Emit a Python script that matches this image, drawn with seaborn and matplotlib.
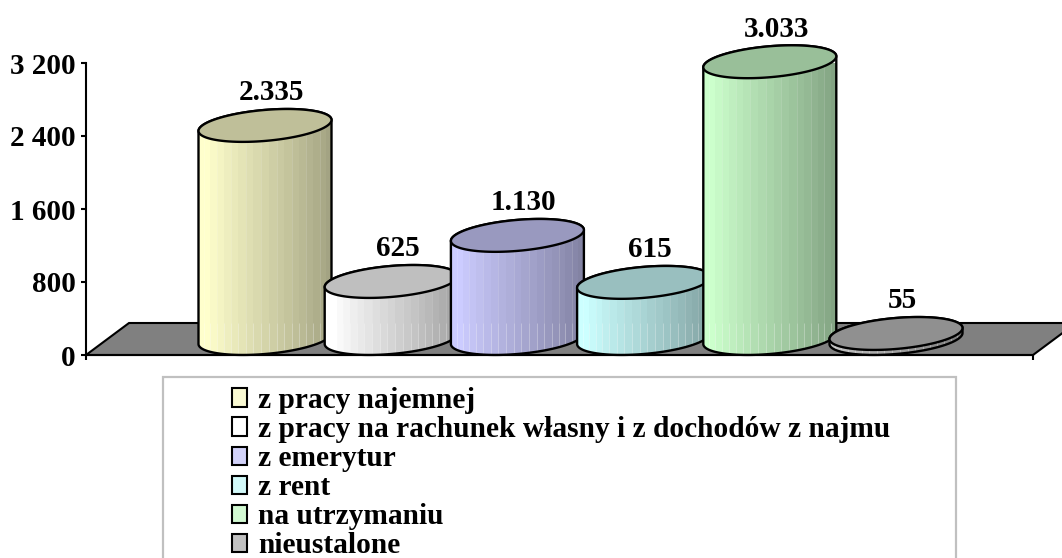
import numpy as np
import pandas as pd
import matplotlib
matplotlib.use("Agg")
from matplotlib import pyplot as plt
from matplotlib.colors import ListedColormap, to_rgb
from matplotlib.patches import Polygon, Rectangle
import seaborn as sns

categories = ["z pracy najemnej", "z pracy na rachunek własny i z dochodów z najmu",
              "z emerytur", "z rent", "na utrzymaniu", "nieustalone"]
values = [2335, 625, 1130, 615, 3033, 55]
value_labels = ["2.335", "625", "1.130", "615", "3.033", "55"]
colors = ["#FFFFCC", "#FFFFFF", "#CCCCFF", "#CCFFFF", "#CCFFCC", "#C0C0C0"]
y_ticks = [0, 800, 1600, 2400, 3200]
y_tick_labels = ["0", "800", "1 600", "2 400", "3 200"]

W, H = 1062, 558
AX_L, AX_R, AX_T, AX_B = 86, 1033, 63, 355   # axes box in pixels
PX_X = 126.2                                 # pixels per category
PX_Y = (AX_B - AX_T) / 3200                  # pixels per value unit

sns.set_theme(style="white")
plt.rcParams["font.family"] = ["Liberation Serif"]
plt.rcParams["font.weight"] = "bold"

fig = plt.figure(figsize=(W / 100, H / 100), dpi=100)
ax = fig.add_axes([AX_L / W, 1 - AX_B / H, (AX_R - AX_L) / W, (AX_B - AX_T) / H])

df = pd.DataFrame({"kategoria": categories, "liczba": values})
sns.barplot(data=df, x="kategoria", y="liczba", hue="kategoria", palette=colors,
            hue_order=categories, order=categories, width=133 / PX_X, dodge=False,
            legend=True, ax=ax)
bars = sorted([p for p in ax.patches if p.get_height() > 0], key=lambda p: p.get_x())

ax.set_xlim((AX_L - 265) / PX_X, (AX_R - 265) / PX_X)
ax.set_ylim(0, 3200)
x0, x1 = ax.get_xlim()
ax.set_xticks([x0, x1])
ax.set_xticklabels([])
ax.set_yticks(y_ticks)
ax.set_yticklabels(y_tick_labels, fontsize=21, fontweight="bold", color="black")
ax.set_xlabel("")
ax.set_ylabel("")
ax.tick_params(axis="both", length=3.5, width=1.5, color="black", left=True, bottom=True, pad=3.7)
sns.despine(ax=ax)
for side in ["left", "bottom"]:
    ax.spines[side].set_color("black")
    ax.spines[side].set_linewidth(1.5)

# floor of the 3d chart
floor_dx = 43 / PX_X
floor_dy = 32 / PX_Y
ax.add_patch(Polygon([(x0, 0), (x1, 0), (x1 + floor_dx, floor_dy), (x0 + floor_dx, floor_dy)],
                     fc="#808080", ec="black", lw=1.5, clip_on=False, zorder=1))

base_y = 16.5 / PX_Y    # cylinder base sits in the middle of the floor
tilt = 5.5 / PX_Y
minor = 15.5 / PX_Y
t_all = np.linspace(0, 2 * np.pi, 200)


def ring(xc, half_w, yc, t):
    return np.column_stack([xc + half_w * np.cos(t), yc + tilt * np.cos(t) + minor * np.sin(t)])


for i, bar in enumerate(bars):
    bar.set_visible(False)
    half_w = bar.get_width() / 2
    xc = bar.get_x() + half_w
    top = base_y + bar.get_height()
    z = 3 + i
    rgb = np.array(to_rgb(colors[i]))

    # body outline: lower half of base, upper half of top
    low = ring(xc, half_w, base_y, np.linspace(np.pi, 2 * np.pi, 100))
    up = ring(xc, half_w, top, np.linspace(0, np.pi, 100))
    body = Polygon(np.vstack([low, up]), closed=True, fc="none", ec="black", lw=1.7, zorder=z + 0.3,
                   clip_on=False)
    ax.add_patch(body)

    # facets of the cylinder, dark towards the right
    n = 19
    u = np.linspace(-1, 1, n + 1)
    edges = xc + half_w * (0.8 * u + 0.2 * np.sin(u * np.pi / 2))
    shade = np.clip(1.03 - 0.4 * (np.arange(n) + 0.5) / n, 0, 1)
    cmap = ListedColormap([rgb * s for s in shade])
    mesh = ax.pcolormesh(edges, [0, top + 2 * minor], np.arange(n)[None, :], cmap=cmap, zorder=z,
                         clip_on=True)
    mesh.set_clip_path(body)
    seams = ax.vlines(edges[1:-1], 0, floor_dy, color="white", alpha=0.3, lw=0.7, zorder=z + 0.1)
    seams.set_clip_path(body)
    seams2 = ax.vlines(edges[1:-1:2], floor_dy, top + 2 * minor, color="white", alpha=0.14, lw=0.7,
                       zorder=z + 0.1)
    seams2.set_clip_path(body)

    # top of the cylinder
    ax.add_patch(Polygon(ring(xc, half_w, top, t_all), closed=True, fc=rgb * 0.75, ec="black", lw=1.7,
                         zorder=z + 0.4, clip_on=False))

    ax.annotate(value_labels[i], (xc, top), xytext=(4.5, 23.5), textcoords="offset points",
                ha="center", va="center", fontsize=21, fontweight="bold", color="black",
                zorder=20, annotation_clip=False)

# legend in a frame cut by the lower edge of the picture
fig.add_artist(Rectangle((163 / W, -0.1), (956 - 163) / W, 0.1 + 1 - 377 / H, transform=fig.transFigure,
                         fc="white", ec="#C0C0C0", lw=1.6, zorder=-1))
sns.move_legend(ax, "upper left", bbox_to_anchor=(226 / W, 1 - 381 / H), bbox_transform=fig.transFigure,
                title=None, frameon=False, fontsize=21.2, handlelength=0.52, handleheight=0.57,
                handletextpad=0.38, labelspacing=0.07, borderpad=0.2, borderaxespad=0)
leg = ax.get_legend()
leg.set_zorder(30)
for h in leg.legend_handles:
    h.set_edgecolor("black")
    h.set_linewidth(1.5)
for t in leg.get_texts():
    t.set_color("black")
    t.set_fontweight("bold")

fig.savefig("out.png", dpi=100)
